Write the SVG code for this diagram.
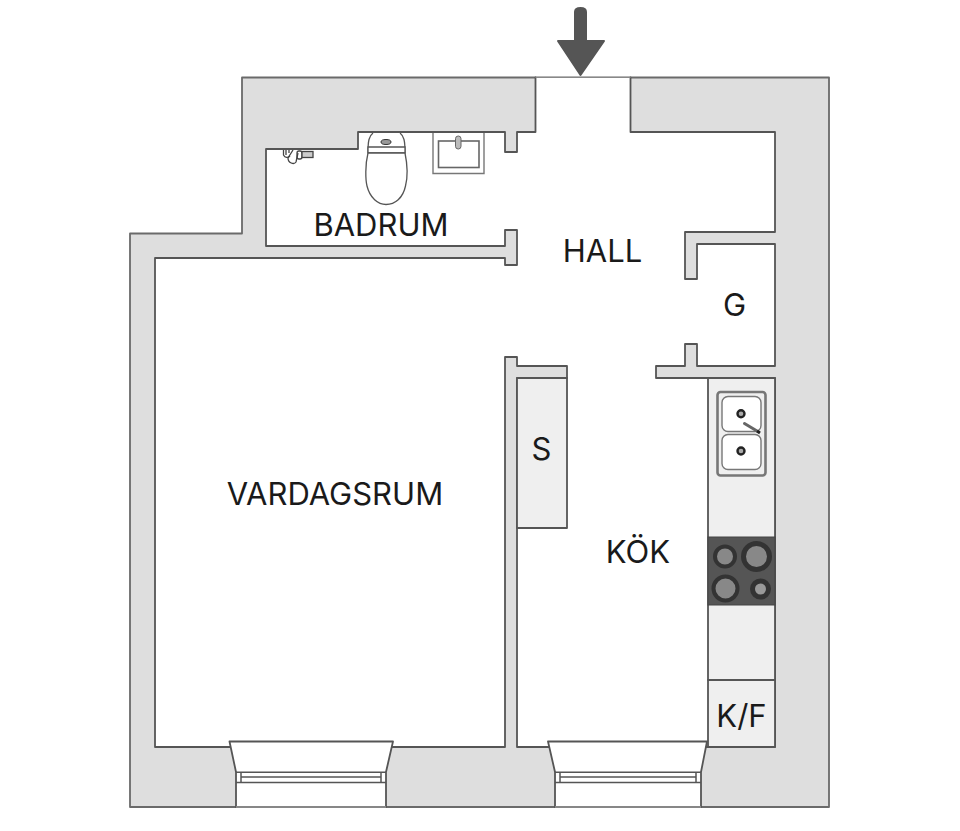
<svg xmlns="http://www.w3.org/2000/svg" width="960" height="831" viewBox="0 0 960 831">
<style>
.ln{stroke:#555;stroke-width:1.8;stroke-linejoin:round;stroke-linecap:round}
.wall{fill:#dedede}
.fix{fill:#efefef}
.w{fill:#fff}
.none{fill:none}
.thin{stroke:#555;stroke-width:1.3;fill:#fff}
.sk{fill:#fff;stroke:#777;stroke-width:1.4}
text{font-family:Inter,"Liberation Sans",sans-serif;font-size:31px;fill:#1a1a1a;text-anchor:middle}
</style>
<rect width="960" height="831" fill="#fff"/>
<g id="walls">
<path class="wall ln" style="stroke:#6a6a6a" d="M242 77.5H829V807H130V233.5H242Z"/>
<path class="w ln" d="M535.5 77.5V132H517V152H505V132H358V149H266V246H505V230H517V265H505V258H155V747H505V357H517V366H567V378H517V747H775V378H656V366H685V344H697V366H775V244H697V279H685V232H775V132H630.5V77.5"/>
<path d="M535.5 77.5H630.5" stroke="#888" stroke-width="1.2" fill="none"/>
</g>
<g id="closet-s">
<rect class="fix ln" x="517" y="378" width="50" height="150"/>
</g>
<g id="counter">
<rect class="fix ln" x="708" y="378" width="67" height="369"/>
<path class="ln none" d="M708 680H775"/>
</g>
<g id="kitchen-sink">
<rect x="717.5" y="392" width="48" height="83.500" rx="3" fill="#efefef" stroke="#777" stroke-width="2.600"/>
<rect class="sk" x="722" y="396.500" width="39" height="35" rx="6"/>
<rect class="sk" x="722" y="434.500" width="39" height="35" rx="6"/>
<circle cx="741" cy="413.700" r="3.500" fill="#aaa" stroke="#222" stroke-width="2.400"/>
<circle cx="741" cy="451" r="3.500" fill="#aaa" stroke="#222" stroke-width="2.400"/>
<path d="M744.500 423.500L757 431" stroke="#666" stroke-width="3" stroke-linecap="round"/>
<path d="M757 431L760 433" stroke="#222" stroke-width="3"/>
</g>
<g id="stove">
<rect x="708" y="537" width="67" height="68" fill="#555" stroke="#444"/>
<circle cx="725" cy="556.500" r="10" fill="#888" stroke="#333" stroke-width="4"/>
<circle cx="756.500" cy="556.500" r="13" fill="#888" stroke="#333" stroke-width="5"/>
<circle cx="725.500" cy="588.500" r="12" fill="#888" stroke="#333" stroke-width="4"/>
<circle cx="760.500" cy="589" r="8" fill="#999" stroke="#333" stroke-width="5"/>
</g>
<g id="toilet">
<path class="thin" d="M373 133C369 136 368 141 368 152H405C405 141 404 136 400 133"/>
<path class="thin" d="M368 147H405V153H368Z"/>
<path class="thin" d="M368 153C365 165 365.500 180 367 186C370 198 378 204.500 386 204.500C395 204.500 403 198 405.500 186C407.500 178 407.500 165 405 153Z"/>
<ellipse cx="386" cy="142" rx="5" ry="2.500" fill="#999" stroke="#333"/>
</g>
<g id="bath-sink">
<path d="M433 133V173.500H484V133" fill="#fff" stroke="#777" stroke-width="1.400"/>
<rect x="438.500" y="141" width="40.500" height="26.500" fill="#fff" stroke="#666" stroke-width="1.600"/>
<rect x="455.500" y="136" width="5.500" height="13" rx="2.700" fill="#bbb" stroke="#666"/>
</g>
<g id="shower-mixer" fill="none" stroke="#444" stroke-width="1.300">
<path d="M283.500 150V155C285 158 288 158 290 156"/>
<path d="M286 150V155M289 150V153"/>
<path d="M293 150L288 158C288 163 294 165 296 162L298 153"/>
<rect x="297" y="151" width="5" height="8" rx="2"/>
<rect x="302" y="151.500" width="11" height="6" fill="#ccc"/>
</g>
<g id="window-living">
<path class="w ln" d="M229.500 741.500H393L386 772V807H236V772Z"/>
<path class="none" stroke="#555" stroke-width="1.500" d="M236 772.300H386M241 777H381M241 782.500H381M236 782.500H241M381 782.500H386M241 772.300V782.500M381 772.300V782.500"/>
<path d="M236 807H386" stroke="#999" stroke-width="1.300"/>
</g>
<g id="window-kitchen">
<path class="w ln" d="M548 741.500H707L701 772V807H555V772Z"/>
<path class="none" stroke="#555" stroke-width="1.500" d="M555 772.300H701M560 777H696M560 782.500H696M555 782.500H560M696 782.500H701M560 772.300V782.500M696 772.300V782.500"/>
<path d="M555 807H701" stroke="#999" stroke-width="1.300"/>
</g>
<g id="entrance-arrow">
<path fill="#555" stroke="#555" stroke-linejoin="round" stroke-width="2" d="M575 41V12Q575 8 580.500 8Q586 8 586 12V41H604L580.500 75L558 41Z"/>
</g>
<g id="labels">
<text x="381" y="235.500">BADRUM</text>
<text x="602.500" y="261.500">HALL</text>
<text x="734.500" y="315.500">G</text>
<text x="541.500" y="459.500">S</text>
<text x="335" y="504.500">VARDAGSRUM</text>
<text x="638" y="562.500">KÖK</text>
<text x="741.500" y="726.500">K/F</text>
</g>
</svg>
